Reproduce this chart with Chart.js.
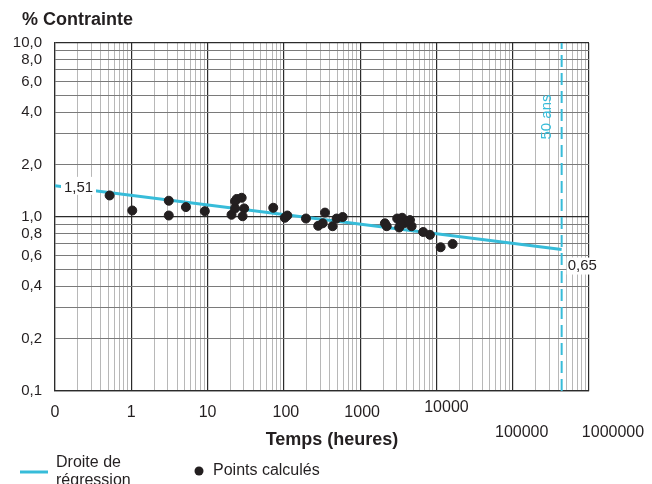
<!DOCTYPE html>
<html>
<head>
<meta charset="utf-8">
<script src="https://cdn.jsdelivr.net/npm/chart.js@4.4.1/dist/chart.umd.min.js"></script>
<style>
  html, body { margin: 0; padding: 0; background: #fff; }
  canvas { display: block; }
</style>
</head>
<body>
<canvas id="chart" width="652" height="484"></canvas>
<script>
// Points calculés : temps (heures) / % contrainte
const pointHours = [0.52, 1.03, 3.1, 3.1, 5.2, 9.2, 20.6, 22.9, 22.9, 24.1, 28.0, 30.2, 28.8,
  72.6, 103, 111, 195, 282, 323, 346, 436, 492, 590,
  2110, 2230, 3060, 3250, 3750, 4500, 4730, 3550, 4100, 3400, 6710, 8220, 11350, 16300];
const pointStress = [1.33, 1.09, 1.24, 1.02, 1.14, 1.08, 1.03, 1.12, 1.23, 1.27, 1.29, 1.12, 1.01,
  1.13, 0.99, 1.02, 0.98, 0.89, 0.92, 1.06, 0.885, 0.98, 1.0,
  0.92, 0.885, 0.98, 0.87, 0.92, 0.96, 0.885, 0.99, 0.94, 0.92, 0.82, 0.79, 0.67, 0.70];

// Droite de régression (début / 50 ans)
const lineHours = [0.1, 438000];
const lineStress = [1.51, 0.65];
const lineLabels = ['1,51', '0,65'];
const fiftyYears = 438000;

// axes
const yTickValues = [0.1, 0.2, 0.4, 0.6, 0.8, 1, 2, 4, 6, 8, 10];
const yTickLabels = ['0,1', '0,2', '0,4', '0,6', '0,8', '1,0', '2,0', '4,0', '6,0', '8,0', '10,0'];
const xTickValues = [0.1, 1, 10, 100, 1000, 10000, 100000, 1000000];
const xTickLabels = ['0', '1', '10', '100', '1000', '10000', '100000', '1000000'];

const CYAN = '#37bcd9';
const INK = '#231f20';
const FONT = '"Liberation Sans", Arial, sans-serif';

// 1..9 x 10^n grid ticks
function decadeTicks(min, max) {
  const out = [];
  for (let e = Math.round(Math.log10(min)); e < Math.round(Math.log10(max)); e++) {
    for (let m = 1; m <= 9; m++) out.push({ value: Number((m * Math.pow(10, e)).toPrecision(6)) });
  }
  out.push({ value: max });
  return out;
}
const isMajor = v => Math.abs(Math.log10(v) - Math.round(Math.log10(v))) < 1e-6;

// labels, titles and legend
const extras = {
  id: 'extras',
  afterDraw(chart) {
    const { ctx, chartArea, scales } = chart;
    const xs = scales.x, ys = scales.y;
    ctx.save();

    // x tick labels (some are shifted in the original drawing)
    const shift = { '100': [2, 0], '1000': [2, 0], '10000': [10, -5], '100000': [9, 20], '1000000': [24, 20] };
    ctx.font = '16px ' + FONT;
    ctx.fillStyle = INK;
    ctx.textAlign = 'center';
    ctx.textBaseline = 'middle';
    xTickValues.forEach((v, i) => {
      const d = shift[xTickLabels[i]] || [0, 0];
      ctx.fillText(xTickLabels[i], xs.getPixelForValue(v) + d[0], chartArea.bottom + 22 + d[1]);
    });

    // titles
    ctx.font = 'bold 18px ' + FONT;
    ctx.fillText('Temps (heures)', (chartArea.left + chartArea.right) / 2 + 10, chartArea.bottom + 49);
    ctx.textAlign = 'left';
    ctx.fillText('% Contrainte', 22, 20);

    // value labels on the regression line
    ctx.font = '15px ' + FONT;
    const x0 = xs.getPixelForValue(lineHours[0]), y0 = ys.getPixelForValue(lineStress[0]);
    ctx.fillStyle = '#fff';
    ctx.fillRect(x0 + 6, y0 - 9, 35, 18);
    ctx.fillStyle = INK;
    ctx.fillText(lineLabels[0], x0 + 9, y0 + 2);
    const x1 = xs.getPixelForValue(lineHours[1]), y1 = ys.getPixelForValue(lineStress[1]);
    ctx.fillStyle = '#fff';
    ctx.fillRect(x1 + 5, y1 + 8, 30, 17);
    ctx.fillStyle = INK;
    ctx.fillText(lineLabels[1], x1 + 6, y1 + 16);

    // 50 ans
    ctx.translate(xs.getPixelForValue(fiftyYears) - 15, chartArea.top + 74);
    ctx.rotate(-Math.PI / 2);
    ctx.textAlign = 'center';
    ctx.fillStyle = CYAN;
    ctx.fillText('50 ans', 0, 0);
    ctx.setTransform(1, 0, 0, 1, 0, 0);

    // legend
    ctx.font = '16px ' + FONT;
    ctx.strokeStyle = CYAN;
    ctx.lineWidth = 3;
    ctx.beginPath();
    ctx.moveTo(20, 472);
    ctx.lineTo(48, 472);
    ctx.stroke();
    ctx.fillStyle = INK;
    ctx.textAlign = 'left';
    ctx.fillText('Droite de', 56, 463);
    ctx.fillText('régression', 56, 481);
    ctx.beginPath();
    ctx.arc(199, 471, 4.5, 0, Math.PI * 2);
    ctx.fill();
    ctx.fillText('Points calculés', 213, 471);
    ctx.restore();
  }
};

new Chart(document.getElementById('chart'), {
  type: 'scatter',
  data: {
    datasets: [
      {
        label: 'Points calculés',
        data: pointHours.map((h, i) => ({ x: h, y: pointStress[i] })),
        backgroundColor: INK,
        borderColor: INK,
        pointRadius: 4.5,
        order: 0
      },
      {
        label: 'Droite de régression',
        data: lineHours.map((h, i) => ({ x: h, y: lineStress[i] })),
        showLine: true,
        borderColor: CYAN,
        borderWidth: 3,
        pointRadius: 0,
        order: 1
      },
      {
        label: '50 ans',
        data: [{ x: fiftyYears, y: yTickValues[0] }, { x: fiftyYears, y: yTickValues[yTickValues.length - 1] }],
        showLine: true,
        borderColor: CYAN,
        borderWidth: 2,
        borderDash: [12, 6],
        pointRadius: 0,
        order: 2
      }
    ]
  },
  options: {
    responsive: false,
    animation: false,
    layout: { padding: { top: 43, right: 63, left: 0, bottom: 0 } },
    plugins: { legend: { display: false }, tooltip: { enabled: false } },
    scales: {
      x: {
        type: 'logarithmic',
        min: xTickValues[0],
        max: xTickValues[xTickValues.length - 1],
        afterBuildTicks: s => { s.ticks = decadeTicks(s.min, s.max); },
        afterFit: s => { s.height = 93; },
        ticks: { display: false },
        border: { color: '#2b2b2b', width: 1.2 },
        grid: {
          drawTicks: false,
          color: c => isMajor(c.tick.value) ? '#2b2b2b' : '#b8b8b8',
          lineWidth: c => isMajor(c.tick.value) ? 1.2 : 1
        }
      },
      y: {
        type: 'logarithmic',
        min: yTickValues[0],
        max: yTickValues[yTickValues.length - 1],
        afterBuildTicks: s => { s.ticks = decadeTicks(s.min, s.max); },
        afterFit: s => { s.width = 55; },
        border: { color: '#2b2b2b', width: 1.2 },
        ticks: {
          autoSkip: false,
          padding: 13,
          color: INK,
          font: { family: FONT, size: 15 },
          callback: v => {
            const i = yTickValues.findIndex(t => Math.abs(t - v) < 1e-9);
            return i >= 0 ? yTickLabels[i] : '';
          }
        },
        grid: {
          drawTicks: false,
          color: c => isMajor(c.tick.value) ? '#2b2b2b' : '#7a7a7a',
          lineWidth: c => isMajor(c.tick.value) ? 1.2 : 1
        }
      }
    }
  },
  plugins: [extras]
});
</script>
</body>
</html>
